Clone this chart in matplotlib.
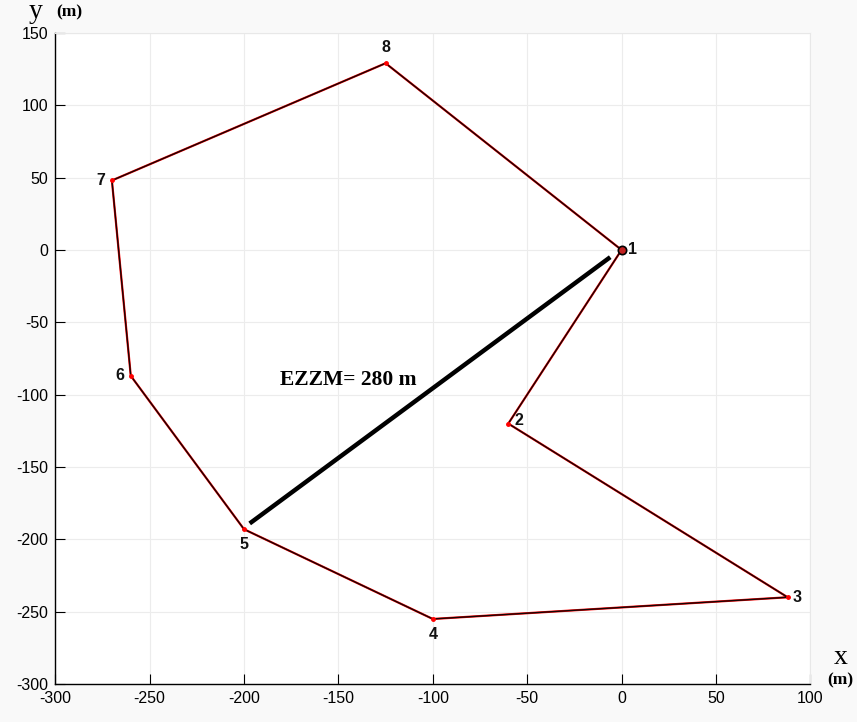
import numpy as np
import matplotlib.pyplot as plt

plt.rcParams["axes.unicode_minus"] = False
plt.rcParams["font.family"] = ["Liberation Sans", "DejaVu Sans"]

# polygon vertices (m), closed back to point 1
pt_ids = ["1", "2", "3", "4", "5", "6", "7", "8"]
pt_x = [0, -60, 88, -100, -200, -260, -270, -125]
pt_y = [0, -120, -240, -255, -193, -87, 48, 129]

# EZZM segment
ezzm_x = [-197, -6]
ezzm_y = [-189, -5]
ezzm_label = "EZZM= 280 m"

# label offsets in points
offsets = {"1": (8, 0), "2": (8, 2), "3": (7, 0), "4": (0, -11), "5": (0, -11),
           "6": (-8, 0), "7": (-8, 0), "8": (0, 11)}

fig = plt.figure(figsize=(8.57, 7.22), dpi=100, facecolor="#f9f9f9")
ax = fig.add_axes([0.0645, 0.0525, 0.881, 0.902])
ax.set_facecolor("white")

xs = np.array(pt_x + [pt_x[0]], dtype=float)
ys = np.array(pt_y + [pt_y[0]], dtype=float)
ax.plot(xs, ys, color="red", linewidth=1.6, zorder=2)
ax.plot(xs, ys, color="#150505", linewidth=1.0, zorder=3)
ax.plot(pt_x, pt_y, "o", color="red", markersize=2.5, zorder=4)
ax.plot([0], [0], "o", markerfacecolor="#c02020", markeredgecolor="black",
        markersize=6, markeredgewidth=1.2, zorder=5)

for pid, x, y in zip(pt_ids, pt_x, pt_y):
    dx, dy = offsets[pid]
    ax.annotate(pid, (x, y), xytext=(dx, dy), textcoords="offset points",
                ha="center", va="center", fontsize=11.5, fontweight="bold",
                color="#111111")

ax.plot(ezzm_x, ezzm_y, color="black", linewidth=3.2, solid_capstyle="butt", zorder=6)
ax.text(-181, -90, ezzm_label, fontsize=15.5, fontweight="bold",
        family="Liberation Serif", ha="left", va="center")

ax.set_xlim(-300, 100)
ax.set_ylim(-300, 150)
ax.set_xticks(np.arange(-300, 101, 50))
ax.set_yticks(np.arange(-300, 151, 50))
ax.tick_params(direction="in", length=7, labelsize=11.5, colors="black")
ax.tick_params(axis="x", pad=5)
ax.tick_params(axis="y", pad=5)
ax.grid(True, color="#ececec", linewidth=0.8)
ax.set_axisbelow(True)
for s in ["top", "right"]:
    ax.spines[s].set_color("#e8e8e8")
for s in ["left", "bottom"]:
    ax.spines[s].set_linewidth(1.0)

fig.text(0.041, 0.984, "y", family="Liberation Serif", fontsize=20, ha="center", va="center")
fig.text(0.081, 0.983, "(m)", family="Liberation Serif", fontsize=12.5, fontweight="bold",
         ha="center", va="center")
fig.text(0.981, 0.090, "x", family="Liberation Serif", fontsize=20, ha="center", va="center")
fig.text(0.980, 0.058, "(m)", family="Liberation Serif", fontsize=12.5, fontweight="bold",
         ha="center", va="center")

fig.savefig("out.png", dpi=100, facecolor=fig.get_facecolor())
